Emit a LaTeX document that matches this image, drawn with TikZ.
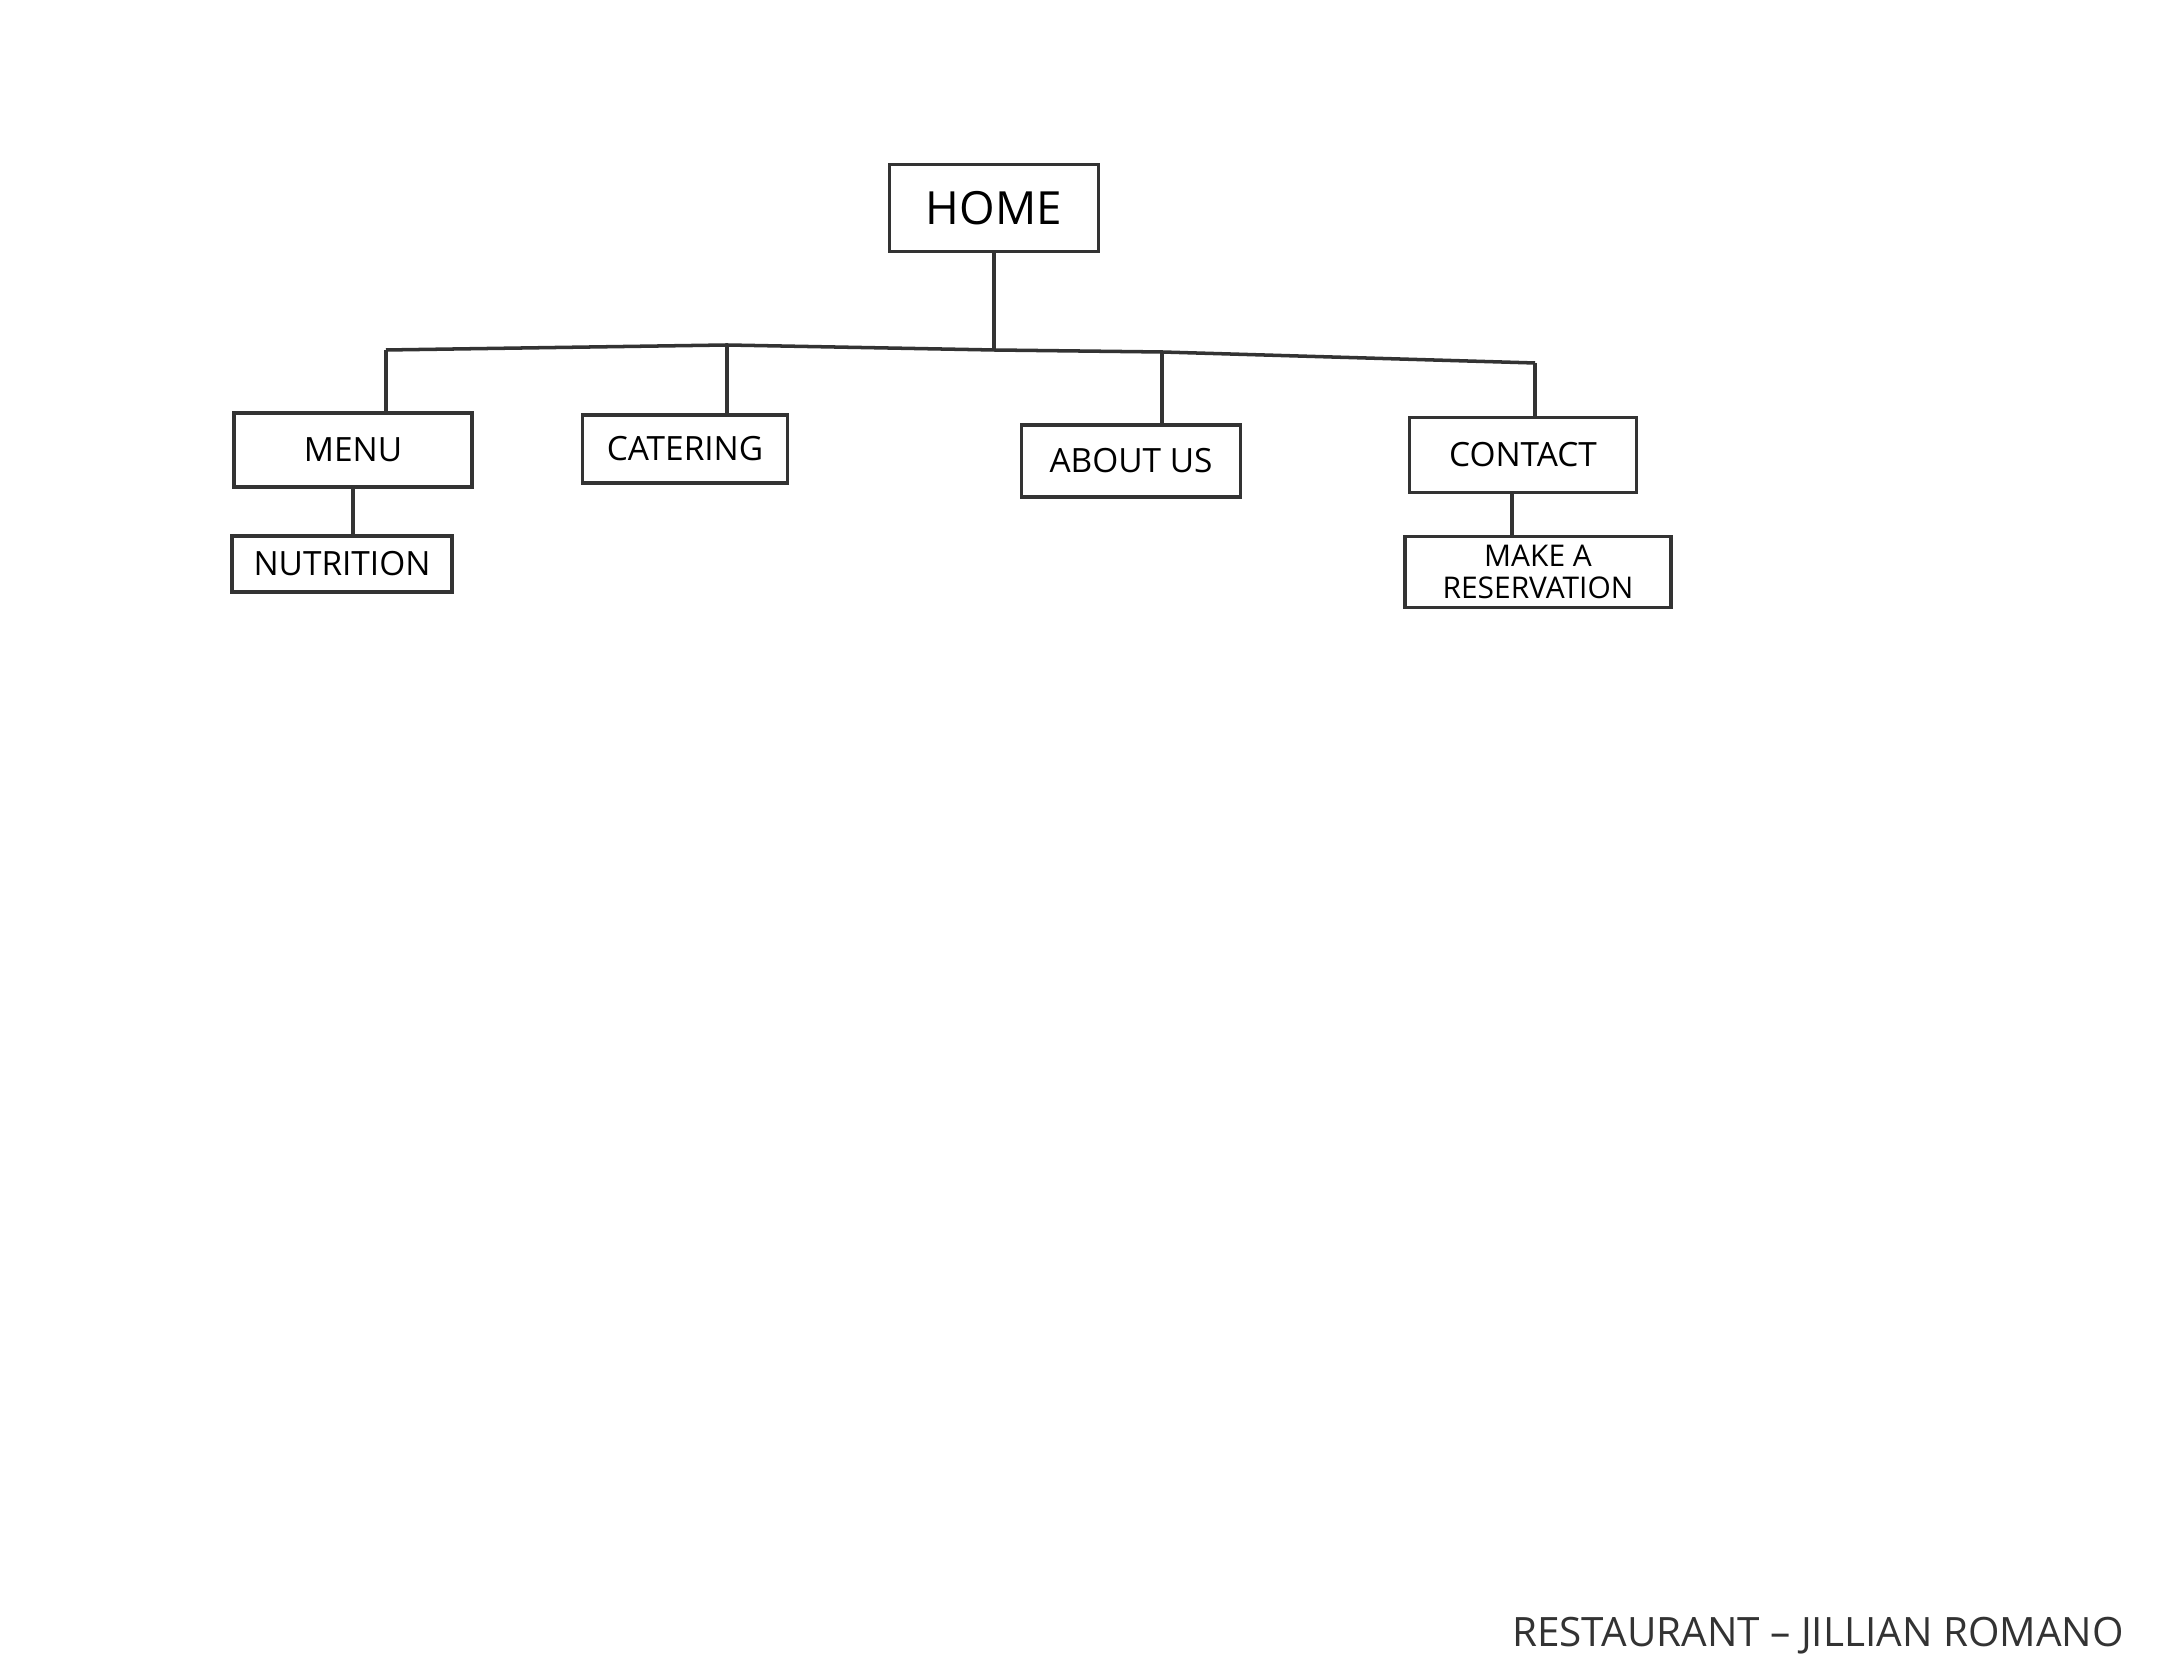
\documentclass[tikz,border=0pt]{standalone}
\usepackage{fontspec}
\setmainfont{Open Sans}

\begin{document}
\begin{tikzpicture}[
  x=0.01cm, y=-0.01cm,
  page/.style={draw=black!80, line width=1pt, inner sep=0pt, align=center, font=\fontsize{9.5}{10}\selectfont},
  wire/.style={black!80, line width=1pt}
]

\useasboundingbox (0,0) rectangle (2184,1677);

% === Pages ===
\node[page, minimum width=2.09cm, minimum height=0.87cm, font=\fontsize{13}{14}\selectfont] (home) at (994,208) {HOME};
\node[page, minimum width=2.38cm, minimum height=0.74cm] (menu)     at (353,450)  {MENU};
\node[page, minimum width=2.05cm, minimum height=0.68cm] (catering) at (685,449)  {CATERING};
\node[page, minimum width=2.19cm, minimum height=0.72cm] (about)    at (1131,461) {ABOUT US};
\node[page, minimum width=2.27cm, minimum height=0.75cm] (contact)  at (1523,455) {CONTACT};
\node[page, minimum width=2.20cm, minimum height=0.56cm] (nutrition) at (342,564) {NUTRITION};
\node[page, minimum width=2.66cm, minimum height=0.71cm, font=\fontsize{8.5}{9}\selectfont] (reserve) at (1538,572) {MAKE A\\RESERVATION};

% === Bus coordinates ===
\coordinate (b1)   at (386,350);
\coordinate (b2)   at (727,345);
\coordinate (hub)  at (994,350);
\coordinate (b3)   at (1162,352);
\coordinate (b4)   at (1535,363);
\coordinate (drop) at (1512,0);    % x of the contact drop

% === Connectors ===
\draw[wire] (home) -- (hub);
\draw[wire] (b1) -- (b2) -- (hub) -- (b3) -- (b4);
\draw[wire] (b1) -- (b1 |- menu.north);
\draw[wire] (b2) -- (b2 |- catering.north);
\draw[wire] (b3) -- (b3 |- about.north);
\draw[wire] (b4) -- (b4 |- contact.north);
\draw[wire] (menu.south) -- (menu.south |- nutrition.north);
\draw[wire] (drop |- contact.south) -- (drop |- reserve.north);

% === Caption ===
\node[font=\fontsize{11.5}{12}\selectfont, text=black!80] (caption) at (1818,1636) {RESTAURANT -- JILLIAN ROMANO};

\end{tikzpicture}
\end{document}
